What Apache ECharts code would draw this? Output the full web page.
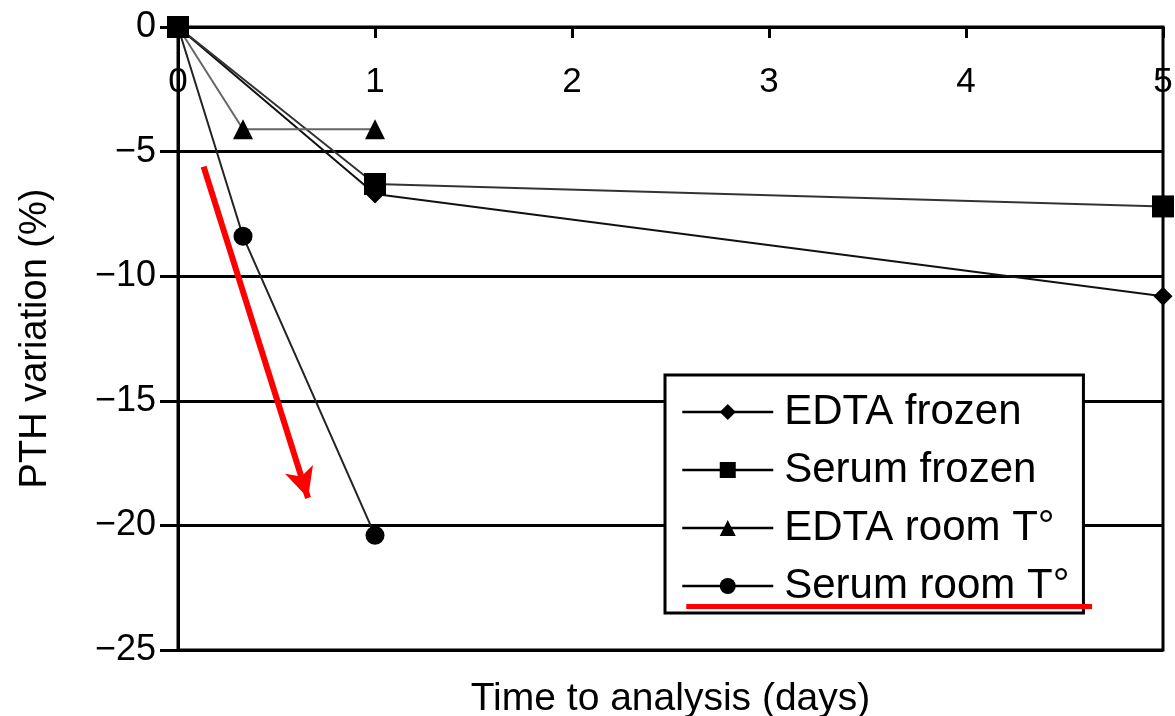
<!DOCTYPE html>
<html>
<head>
<meta charset="utf-8">
<script src="https://cdn.jsdelivr.net/npm/echarts@6/dist/echarts.min.js"></script>
<style>
  html, body { margin: 0; padding: 0; background: #fff; }
  #chart { width: 1175px; height: 716px; }
</style>
</head>
<body>
<div id="chart"></div>
<script>
// ---- data ----
const seriesNames = ['EDTA frozen', 'Serum frozen', 'EDTA room T°', 'Serum room T°'];
const edtaFrozenX = [0, 1, 5];
const edtaFrozenY = [0, -6.7, -10.8];
const serumFrozenX = [0, 1, 5];
const serumFrozenY = [0, -6.3, -7.2];
const edtaRoomX = [0, 0.33, 1];
const edtaRoomY = [0, -4.1, -4.1];
const serumRoomX = [0, 0.33, 1];
const serumRoomY = [0, -8.4, -20.4];
const xTicks = [0, 1, 2, 3, 4, 5];
const yTicks = [0, -5, -10, -15, -20, -25];
// annotation (red arrow and underline), in data coordinates
const arrowFrom = [0.13, -5.6];
const arrowTo = [0.66, -18.9];
const underlineFrom = [2.58, -23.25];
const underlineTo = [4.64, -23.25];

const pairs = (xs, ys) => xs.map((x, i) => [x, ys[i]]);
const FONT = '"Liberation Sans", Arial, sans-serif';

const chart = echarts.init(document.getElementById('chart'), null, { renderer: 'canvas' });

function lineSeries(name, xs, ys, symbol, size, color) {
  return {
    name: name,
    type: 'line',
    data: pairs(xs, ys),
    symbol: symbol,
    symbolSize: size,
    showAllSymbol: true,
    lineStyle: { color: color, width: 2 },
    itemStyle: { color: '#000' },
    emphasis: { disabled: true },
    animation: false,
    z: 3
  };
}

const option = {
  backgroundColor: '#fff',
  animation: false,
  textStyle: { fontFamily: FONT },
  grid: {
    left: 178, top: 27, right: 12, bottom: 66,
    outerBoundsMode: 'none',
    containLabel: false,
    show: true, borderColor: '#000', borderWidth: 3, backgroundColor: 'transparent'
  },
  xAxis: [{
    type: 'value', position: 'top', min: 0, max: 5, interval: 1,
    axisLine: { show: true, onZero: false, lineStyle: { color: '#000', width: 3 } },
    axisTick: { show: true, inside: true, length: 11, lineStyle: { color: '#000', width: 3 } },
    axisLabel: {
      inside: true, margin: 38, color: '#000', fontSize: 35, fontFamily: FONT,
      showMaxLabel: true, showMinLabel: true,
      formatter: v => xTicks.includes(v) ? String(v) : ''
    },
    splitLine: { show: false }
  }, {
    type: 'value', position: 'bottom', min: 0, max: 5, gridIndex: 0,
    axisLine: { show: false }, axisTick: { show: false }, axisLabel: { show: false },
    splitLine: { show: false },
    name: 'Time to analysis (days)', nameLocation: 'middle', nameGap: 30,
    nameTextStyle: { color: '#000', fontSize: 39, fontFamily: FONT }
  }],
  yAxis: {
    type: 'value', min: -25, max: 0, interval: 5,
    axisLine: { show: true, onZero: false, lineStyle: { color: '#000', width: 3 } },
    axisTick: { show: true, inside: false, length: 18, lineStyle: { color: '#000', width: 3 } },
    axisLabel: {
      margin: 22, color: '#000', fontSize: 36, fontFamily: FONT,
      formatter: v => yTicks.includes(v) ? (v < 0 ? '\u2212' + Math.abs(v) : String(v)) : ''
    },
    splitLine: { show: true, lineStyle: { color: '#000', width: 3 } },
    name: 'PTH variation (%)', nameLocation: 'middle', nameGap: 123,
    nameTextStyle: { color: '#000', fontSize: 38, fontFamily: FONT }
  },
  legend: {
    data: seriesNames,
    orient: 'vertical',
    left: 665, top: 375,
    backgroundColor: '#fff',
    borderColor: '#000', borderWidth: 3, borderRadius: 0,
    padding: [16, 14, 6, 16],
    itemWidth: 91, itemHeight: 20, itemGap: 16,
    selectedMode: false,
    itemStyle: { color: '#000' },
    lineStyle: { color: '#000', width: 2.5 },
    textStyle: { color: '#000', fontSize: 42, fontFamily: FONT, padding: [0, 0, 0, 6] },
    inactiveColor: '#000'
  },
  series: [
    lineSeries(seriesNames[0], edtaFrozenX, edtaFrozenY, 'diamond', 19, '#111'),
    lineSeries(seriesNames[1], serumFrozenX, serumFrozenY, 'rect', 22, '#333'),
    lineSeries(seriesNames[2], edtaRoomX, edtaRoomY, 'triangle', 20, '#666'),
    lineSeries(seriesNames[3], serumRoomX, serumRoomY, 'circle', 19, '#222'),
    {
      name: 'annotations',
      type: 'line',
      data: [],
      silent: true,
      animation: false,
      z: 10,
      markLine: {
        silent: true,
        animation: false,
        label: { show: false },
        emphasis: { disabled: true },
        data: [
          [
            { coord: arrowFrom, symbol: 'none' },
            { coord: arrowTo, symbol: 'arrow', symbolSize: [22, 30] }
          ],
          [
            { coord: underlineFrom, symbol: 'none', lineStyle: { width: 5 } },
            { coord: underlineTo, symbol: 'none' }
          ]
        ],
        lineStyle: { color: '#ff0000', width: 6, type: 'solid' }
      }
    }
  ]
};

chart.setOption(option);
</script>
</body>
</html>
